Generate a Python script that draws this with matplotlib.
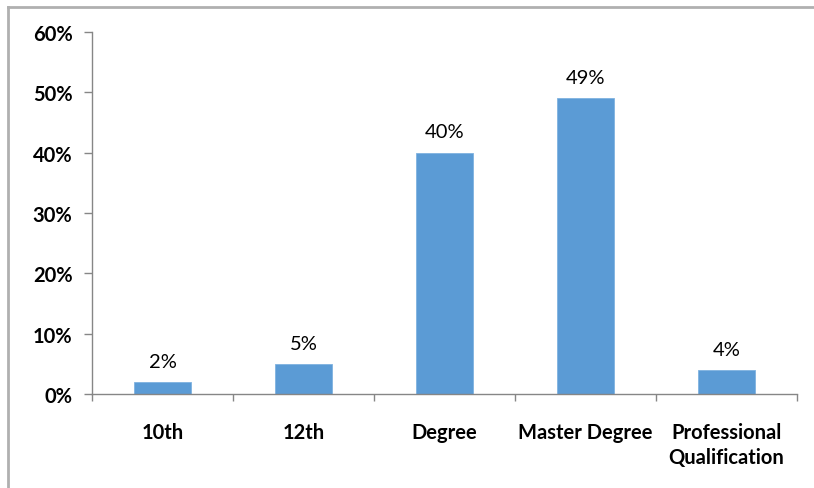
import numpy as np
import matplotlib
matplotlib.use("Agg")
import matplotlib.pyplot as plt
from matplotlib.lines import Line2D

categories = ["10th", "12th", "Degree", "Master Degree", "Professional\nQualification"]
shares = [2, 5, 40, 49, 4]
y_ticks = [0, 10, 20, 30, 40, 50, 60]

plt.rcParams["font.family"] = ["Lato", "DejaVu Sans"]

fig = plt.figure(figsize=(8.14, 4.89), dpi=100)
ax = fig.add_axes([92 / 814, 94 / 489, 705 / 814, 362 / 489])

x = np.arange(len(categories))
bars = ax.bar(x, shares, width=0.4, color="#5B9BD5", edgecolor="#7FB2E0", linewidth=0.6, zorder=2)

for bar, v in zip(bars, shares):
    ax.annotate(f"{v}%", (bar.get_x() + bar.get_width() / 2, v), xytext=(0, 15),
                textcoords="offset points", ha="center", va="center", fontsize=14.5)

ax.set_xlim(-0.5, len(categories) - 0.5)
ax.set_ylim(0, 60)
ax.set_yticks(y_ticks)
ax.set_yticklabels([f"{t}%" for t in y_ticks], fontsize=14.5, fontweight="bold")

ax.set_xticks(x)
ax.set_xticklabels(categories, fontsize=14.5, fontweight="bold", linespacing=1.35)
ax.set_xticks(np.arange(len(categories) + 1) - 0.5, minor=True)
ax.tick_params(axis="x", which="major", length=0, pad=20)
ax.tick_params(axis="x", which="minor", length=5, color="#868686", width=1)
ax.tick_params(axis="y", length=6, color="#868686", width=1, pad=8)

for side in ["top", "right"]:
    ax.spines[side].set_visible(False)
for side in ["left", "bottom"]:
    ax.spines[side].set_color("#868686")
    ax.spines[side].set_linewidth(1)

# outer frame edges (left and top only)
fig.add_artist(Line2D([8 / 814, 8 / 814], [0, 1 - 8 / 489], transform=fig.transFigure,
                      color="#B0B0B0", linewidth=2))
fig.add_artist(Line2D([8 / 814, 1], [1 - 8 / 489, 1 - 8 / 489], transform=fig.transFigure,
                      color="#B0B0B0", linewidth=2))

fig.savefig("out.png", dpi=100)
